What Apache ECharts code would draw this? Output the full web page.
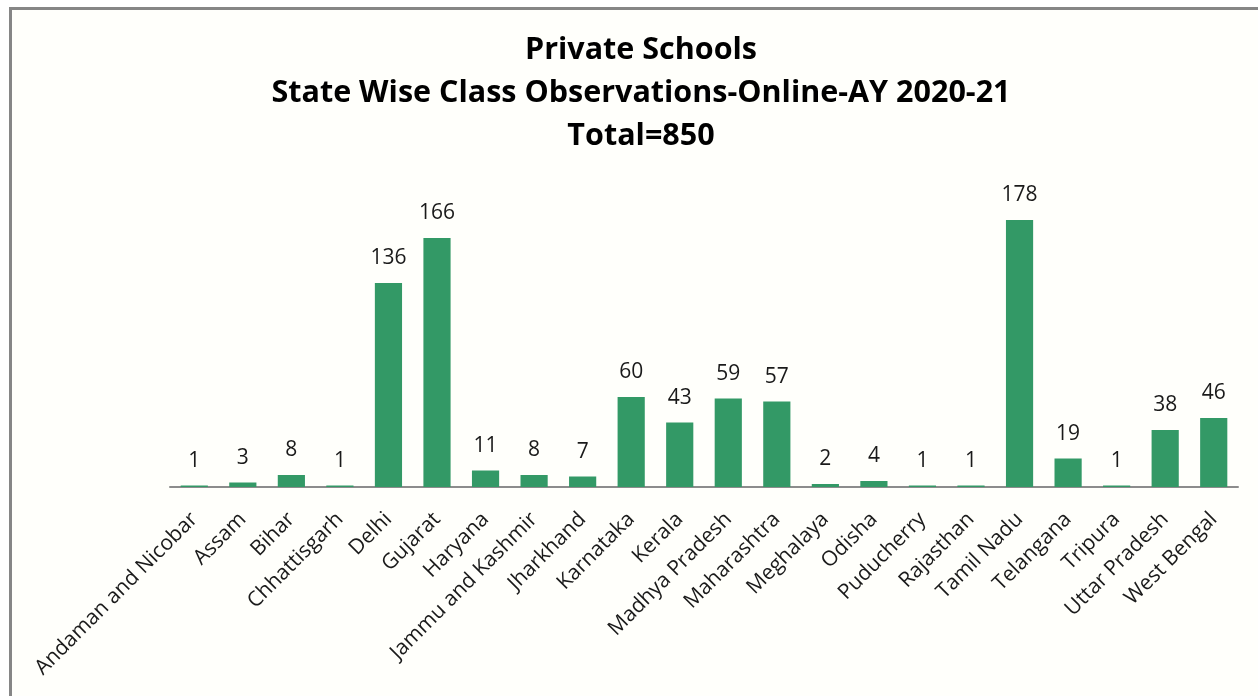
<!DOCTYPE html>
<html>
<head>
<meta charset="utf-8">
<script src="https://cdn.jsdelivr.net/npm/echarts@6/dist/echarts.min.js"></script>
<style>
html,body{margin:0;padding:0;background:#ffffff;width:1258px;height:696px;overflow:hidden;}
#frame{position:absolute;left:9px;top:7px;width:1260px;height:700px;border:3px solid #868686;background:#fffffb;box-sizing:border-box;}
#chart{position:absolute;left:0;top:0;width:1258px;height:696px;}
</style>
</head>
<body>
<div id="frame"></div>
<div id="chart"></div>
<script>
const titleLines = ["Private Schools", "State Wise Class Observations-Online-AY 2020-21", "Total=850"];
const states = ["Andaman and Nicobar","Assam","Bihar","Chhattisgarh","Delhi","Gujarat","Haryana","Jammu and Kashmir","Jharkhand","Karnataka","Kerala","Madhya Pradesh","Maharashtra","Meghalaya","Odisha","Puducherry","Rajasthan","Tamil Nadu","Telangana","Tripura","Uttar Pradesh","West Bengal"];
const observations = [1,3,8,1,136,166,11,8,7,60,43,59,57,2,4,1,1,178,19,1,38,46];

const chart = echarts.init(document.getElementById('chart'), null, {renderer:'canvas'});
chart.setOption({
  backgroundColor: 'transparent',
  animation: false,
  title: {
    text: titleLines.join('\n'),
    left: 636,
    top: 24,
    textAlign: 'center',
    textStyle: {fontFamily: 'Open Sans', fontWeight: 'bold', fontSize: 30.5, lineHeight: 43, color: '#000'}
  },
  grid: {left: 170, right: 20, top: 187, bottom: 209},
  xAxis: {
    type: 'category',
    data: states,
    axisLine: {lineStyle: {color: '#8c8c8c', width: 2}},
    axisTick: {show: false},
    axisLabel: {rotate: 45, interval: 0, fontFamily: 'Open Sans', fontSize: 21, color: '#1a1a1a', margin: 29}
  },
  yAxis: {
    type: 'value', min: 0, max: 200, show: false,
    splitLine: {show: false}
  },
  series: [{
    type: 'bar',
    data: observations,
    barCategoryGap: '44%',
    itemStyle: {color: '#339966'},
    label: {show: true, position: 'top', distance: 14, fontFamily: 'Open Sans', fontSize: 21, color: '#1a1a1a'}
  }]
});
</script>
</body>
</html>
